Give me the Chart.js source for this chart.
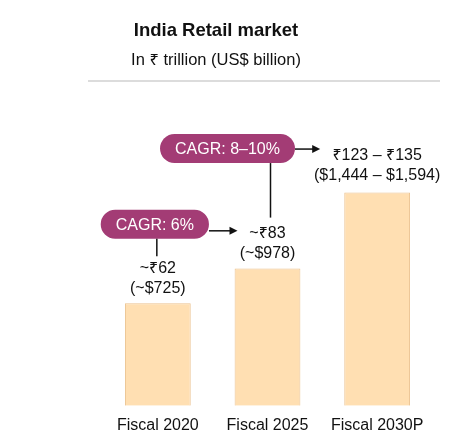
<!DOCTYPE html>
<html>
<head>
<meta charset="utf-8">
<script src="https://cdn.jsdelivr.net/npm/chart.js@4"></script>
<style>
  html, body { margin: 0; padding: 0; background: #fff; }
  #wrap { width: 466px; height: 446px; }
</style>
</head>
<body>
<div id="wrap"><canvas id="retailChart" width="466" height="446"></canvas></div>
<script>
const categories = ['Fiscal 2020', 'Fiscal 2025', 'Fiscal 2030P'];
// midpoint of the 2030P range is drawn as the bar
const marketInr = [62, 83, 129];
const inrLabels = ['~₹62', '~₹83', '₹123 – ₹135'];
const usdLabels = ['(~$725)', '(~$978)', '($1,444 – $1,594)'];
const cagrLabels = ['CAGR: 6%', 'CAGR: 8–10%'];

const FONT = '"Liberation Sans", Arial, "Noto Sans", sans-serif';
const PILL = '#a33c75';

function pill(ctx, cx, cy, text) {
  ctx.font = '16px ' + FONT;
  const w = ctx.measureText(text).width + 30;
  const h = 29;
  const r = h / 2;
  const x = cx - w / 2, y = cy - h / 2;
  ctx.fillStyle = PILL;
  ctx.beginPath();
  ctx.moveTo(x + r, y);
  ctx.lineTo(x + w - r, y);
  ctx.arc(x + w - r, cy, r, -Math.PI / 2, Math.PI / 2);
  ctx.lineTo(x + r, y + h);
  ctx.arc(x + r, cy, r, Math.PI / 2, Math.PI * 1.5);
  ctx.closePath();
  ctx.fill();
  ctx.fillStyle = '#fff';
  ctx.textAlign = 'center';
  ctx.textBaseline = 'middle';
  ctx.fillText(text, cx, cy + 1);
  return { left: x, right: x + w, top: y, bottom: y + h };
}

function arrow(ctx, x1, x2, y) {
  ctx.strokeStyle = '#111';
  ctx.fillStyle = '#111';
  ctx.lineWidth = 1.5;
  ctx.beginPath();
  ctx.moveTo(x1, y);
  ctx.lineTo(x2 - 6, y);
  ctx.stroke();
  ctx.beginPath();
  ctx.moveTo(x2, y);
  ctx.lineTo(x2 - 8, y - 4);
  ctx.lineTo(x2 - 8, y + 4);
  ctx.closePath();
  ctx.fill();
}

function vline(ctx, x, y1, y2) {
  ctx.strokeStyle = '#111';
  ctx.lineWidth = 1.5;
  ctx.beginPath();
  ctx.moveTo(x, y1);
  ctx.lineTo(x, y2);
  ctx.stroke();
}

const decorations = {
  id: 'decorations',
  afterDraw(chart) {
    const ctx = chart.ctx;
    const xs = chart.scales.x;
    const ys = chart.scales.y;
    ctx.save();

    // header
    ctx.fillStyle = '#111';
    ctx.textAlign = 'center';
    ctx.textBaseline = 'middle';
    ctx.font = 'bold 18.5px ' + FONT;
    ctx.fillText('India Retail market', 216, 31);
    ctx.font = '16.5px ' + FONT;
    ctx.fillText('In ₹ trillion (US$ billion)', 216, 60);
    ctx.strokeStyle = '#dcdcdc';
    ctx.lineWidth = 2;
    ctx.beginPath();
    ctx.moveTo(88, 81);
    ctx.lineTo(440, 81);
    ctx.stroke();

    // value labels above bars
    ctx.fillStyle = '#111';
    ctx.font = '16px ' + FONT;
    ctx.textAlign = 'center';
    ctx.textBaseline = 'middle';
    marketInr.forEach((v, i) => {
      const x = xs.getPixelForValue(i);
      const top = ys.getPixelForValue(v);
      const off = i === 2 ? 2 : 0;
      ctx.fillText(inrLabels[i], x, top - 35 - off);
      ctx.fillText(usdLabels[i], x, top - 15 - off);
    });

    // CAGR 2020 -> 2025
    const x0 = xs.getPixelForValue(0);
    const x1 = xs.getPixelForValue(1);
    const x2 = xs.getPixelForValue(2);
    const p1 = pill(ctx, x0 - 3, ys.getPixelForValue(marketInr[0]) - 79, cagrLabels[0]);
    vline(ctx, x0 - 1, p1.bottom, ys.getPixelForValue(marketInr[0]) - 47);
    arrow(ctx, p1.right, x1 - 30, p1.top + 21);

    // CAGR 2025 -> 2030P
    const p2 = pill(ctx, x1 - 40, ys.getPixelForValue(marketInr[2]) - 44, cagrLabels[1]);
    vline(ctx, x1 + 3, p2.bottom, ys.getPixelForValue(marketInr[1]) - 51);
    arrow(ctx, p2.right, x2 - 57, p2.top + 15);

    ctx.restore();
  }
};

new Chart(document.getElementById('retailChart'), {
  type: 'bar',
  data: {
    labels: categories,
    datasets: [{
      data: marketInr,
      backgroundColor: '#ffdfb2',
      borderColor: '#ebc28f',
      borderWidth: 1,
      barPercentage: 0.6,
      categoryPercentage: 1
    }]
  },
  options: {
    responsive: false,
    animation: false,
    devicePixelRatio: 1,
    layout: { padding: { top: 100, left: 103, right: 34, bottom: 1 } },
    plugins: {
      legend: { display: false },
      tooltip: { enabled: false }
    },
    scales: {
      x: {
        grid: { display: false, drawTicks: false },
        border: { display: false },
        ticks: { color: '#111', padding: 10, font: { family: FONT, size: 16 } }
      },
      y: {
        display: false,
        min: 0,
        max: 185
      }
    }
  },
  plugins: [decorations]
});
</script>
</body>
</html>
